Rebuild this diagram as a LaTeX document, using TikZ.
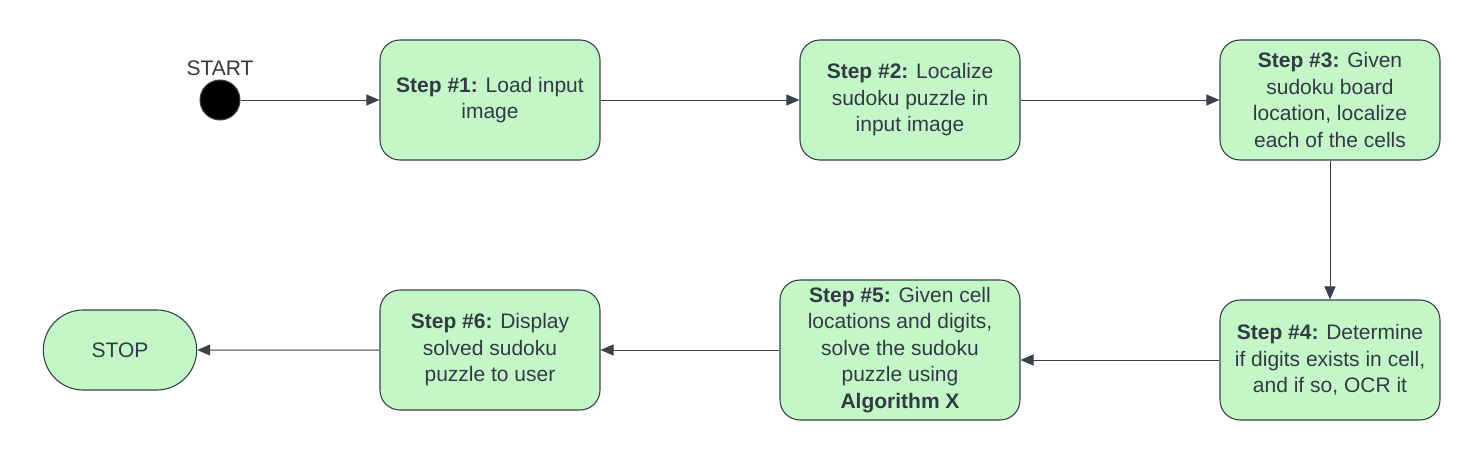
\documentclass[tikz,border=0pt]{standalone}
\usepackage{fontspec}
\setmainfont{Liberation Sans}
\usetikzlibrary{arrows.meta,shapes.misc}
\definecolor{boxfill}{HTML}{C3F7C8}
\definecolor{boxline}{HTML}{3A414A}
\definecolor{txt}{HTML}{333A44}
\tikzset{
  stepbox/.style={draw=boxline, line width=1.1pt, fill=boxfill, rounded corners=20pt,
    minimum width=220pt, minimum height=120pt, align=center, text=txt,
    font=\fontsize{21pt}{26.5pt}\selectfont, inner sep=2pt},
  stopbox/.style={draw=boxline, line width=1.1pt, fill=boxfill, rounded rectangle,
    minimum width=160pt, minimum height=80pt, text=txt,
    font=\fontsize{21pt}{26.5pt}\selectfont},
  flow/.style={draw=boxline, line width=1pt, -{Triangle[length=13pt,width=11pt]}},
}
\begin{document}
\begin{tikzpicture}[x=1pt,y=-1pt]
\useasboundingbox (0,0) rectangle (1480,460);
\node[circle, fill=black, draw=boxline, line width=1pt, minimum size=40pt, inner sep=0pt] (start) at (220,100) {};
\node[text=txt, font=\fontsize{21pt}{24pt}\selectfont] (startlbl) at (220,68) {START};
\node[stepbox] (s1) at (490,100) {\textbf{Step \#1:} Load input\\image};
\node[stepbox] (s2) at (910,100) {\textbf{Step \#2:} Localize\\sudoku puzzle in\\input image};
\node[stepbox] (s3) at (1330,100) {\textbf{Step \#3:} Given\\sudoku board\\location, localize\\each of the cells};
\node[stepbox] (s4) at (1330,360) {\textbf{Step \#4:} Determine\\if digits exists in cell,\\and if so, OCR it};
\node[stepbox, minimum width=240pt, minimum height=140pt] (s5) at (900,350) {\textbf{Step \#5:} Given cell\\locations and digits,\\solve the sudoku\\puzzle using\\\textbf{Algorithm X}};
\node[stepbox] (s6) at (490,350) {\textbf{Step \#6:} Display\\solved sudoku\\puzzle to user};
\node[stopbox] (stop) at (120,350) {STOP};
\draw[flow] (start) -- (s1);
\draw[flow] (s1) -- (s2);
\draw[flow] (s2) -- (s3);
\draw[flow] (s3) -- (s4);
\draw[flow] (s4.west) -- (s4.west -| s5.east);
\draw[flow] (s5) -- (s6);
\draw[flow] (s6) -- (stop);
\end{tikzpicture}
\end{document}
